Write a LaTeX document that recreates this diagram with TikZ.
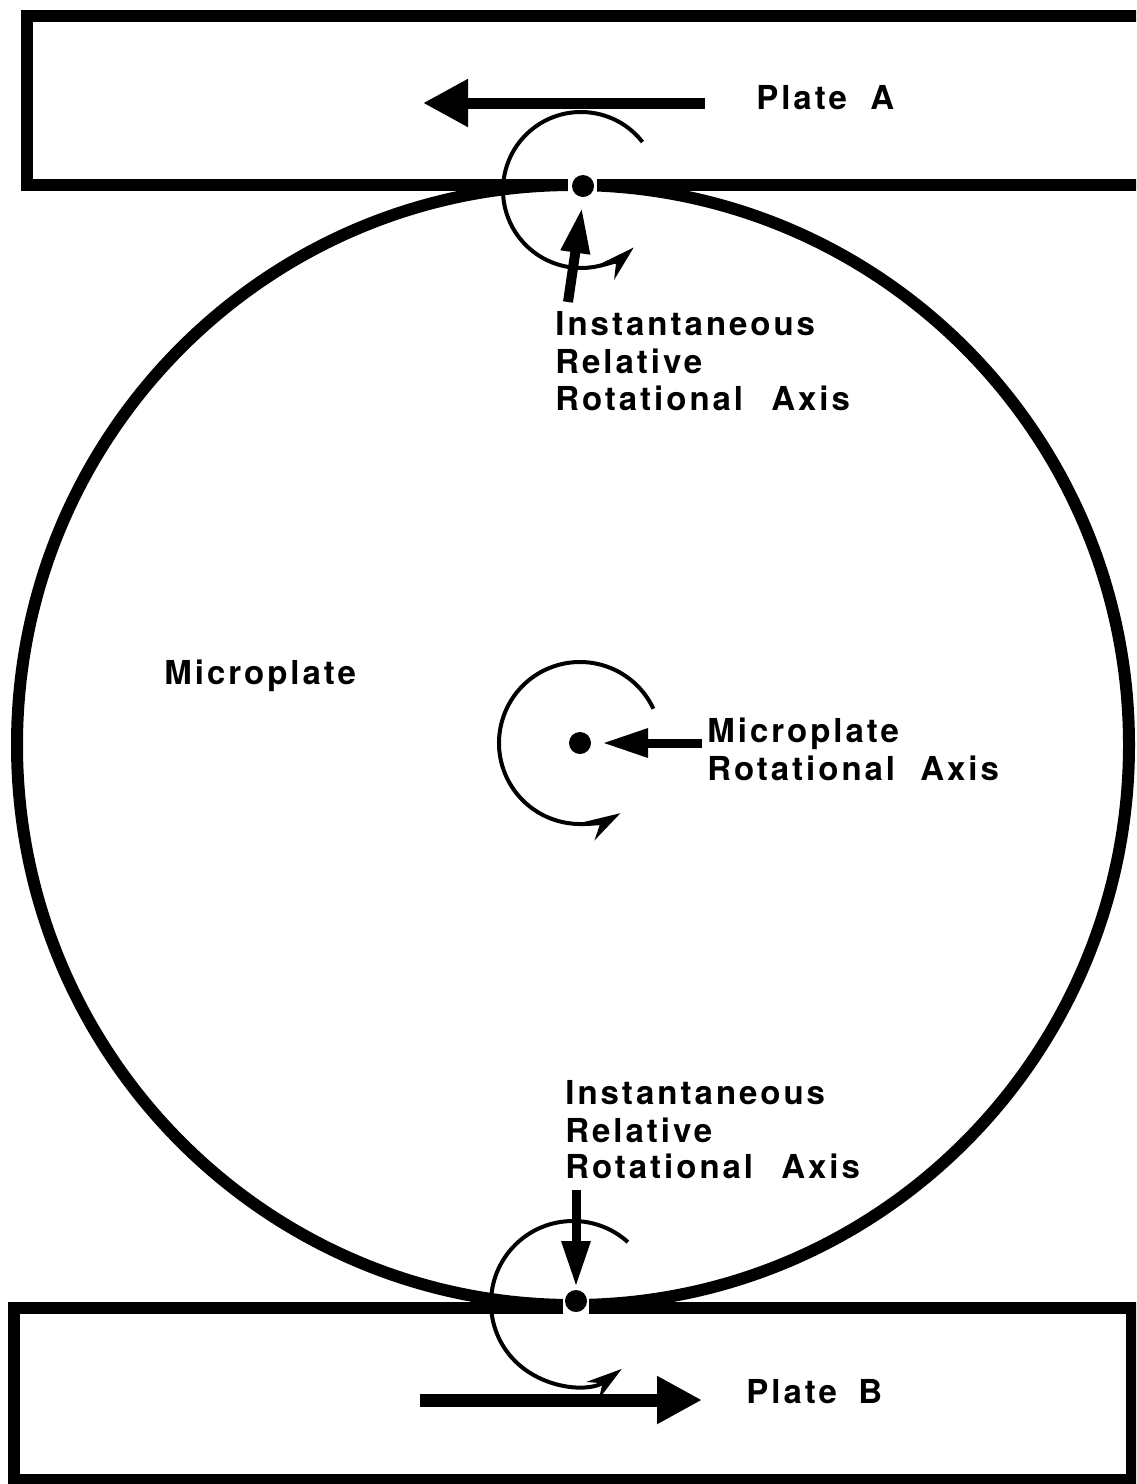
\documentclass[tikz,border=0pt]{standalone}
\usepackage{fontspec}
\newfontfamily\labfont[LetterSpace=9]{TeX Gyre Heros}
\usetikzlibrary{arrows.meta,calc}
\begin{document}
\begin{tikzpicture}[x=0.5pt,y=-0.5pt,
  plate/.style={line width=6pt,line join=miter},
  rim/.style={line width=6pt},
  bigarrow/.style={line width=5.5pt,-{Triangle[length=22.5pt,width=22.5pt]}},
  ptr/.style={line width=5pt,-{Triangle[length=23pt,width=13.5pt]}},
  rot/.style={line width=2pt,-{Stealth[length=18pt,width=10.5pt,inset=6pt]}},
  lab/.style={anchor=base west,inner sep=0pt,font=\labfont\bfseries\fontsize{16.5}{19}\selectfont},
  dot/.style={circle,fill=black,inner sep=0pt,minimum size=11pt}
]
\useasboundingbox (0,0) rectangle (1136,1484);
\clip (0,0) rectangle (1136,1484);
\fill[white] (0,0) rectangle (1136,1484);

% plates
\draw[plate] (1145,16) -- (27,16) -- (27,185) -- (1145,185);
\draw[plate] (14,1308) rectangle (1132,1480);

% microplate
\draw[rim] (573,745) ellipse [x radius=556, y radius=560];

% gaps at contact points
\fill[white] (568,172) rectangle (597,200);
\fill[white] (563,1292) rectangle (589,1320);

% axis dots
\node[dot] (dA) at (583,186) {};
\node[dot] (dC) at (580,743) {};
\node[dot] (dB) at (576,1301) {};

% centres of rotation arcs
\coordinate (cA) at (581,190);
\coordinate (cC) at (580,743);
\coordinate (cB) at (573,1303);

% rotation arcs
\draw[rot] ($(cA)+(-38:78)$) arc[start angle=-38,end angle=-312.5,radius=78];
\draw[rot] ($(cC)+(-25:81)$) arc[start angle=-25,end angle=-300,radius=81];
\draw[rot] ($(cB)+(-48:82)$) arc[start angle=-48,end angle=-306.5,radius=82];

% plate motion arrows
\coordinate (aA0) at (705,103);
\coordinate (aA1) at (423,103);
\draw[bigarrow] (aA0) -- (aA1);
\coordinate (aB0) at (420,1400);
\coordinate (aB1) at (702,1400);
\draw[bigarrow,line width=6.5pt] (aB0) -- (aB1);

% pointer arrows
\coordinate (pA0) at (568,302);
\coordinate (pA1) at (582,207);
\draw[ptr] (pA0) -- (pA1);
\coordinate (pC0) at (702,743);
\coordinate (pC1) at (602,743);
\draw[ptr,line width=4.5pt] (pC0) -- (pC1);
\coordinate (pB0) at (576,1190);
\coordinate (pB1) at (576,1287);
\draw[ptr,line width=4.5pt] (pB0) -- (pB1);

% labels
\node[lab] (plA) at (756,109) {Plate};
\node[lab] (plAl) at (870,109) {A};
\node[lab] (iA1) at (555,335) {Instantaneous};
\node[lab] (iA2) at (555,373) {Relative};
\node[lab] (iA3) at (555,410) {Rotational};
\node[lab] (iA4) at (771,410) {Axis};
\node[lab] (mp) at (164,684) {Microplate};
\node[lab] (mc1) at (707,742) {Microplate};
\node[lab] (mc2) at (707,780) {Rotational};
\node[lab] (mc3) at (920,780) {Axis};
\node[lab] (iB1) at (565,1104) {Instantaneous};
\node[lab] (iB2) at (565,1142) {Relative};
\node[lab] (iB3) at (565,1178) {Rotational};
\node[lab] (iB4) at (781,1178) {Axis};
\node[lab] (plB) at (746,1403) {Plate};
\node[lab] (plBl) at (858,1403) {B};
\end{tikzpicture}
\end{document}
